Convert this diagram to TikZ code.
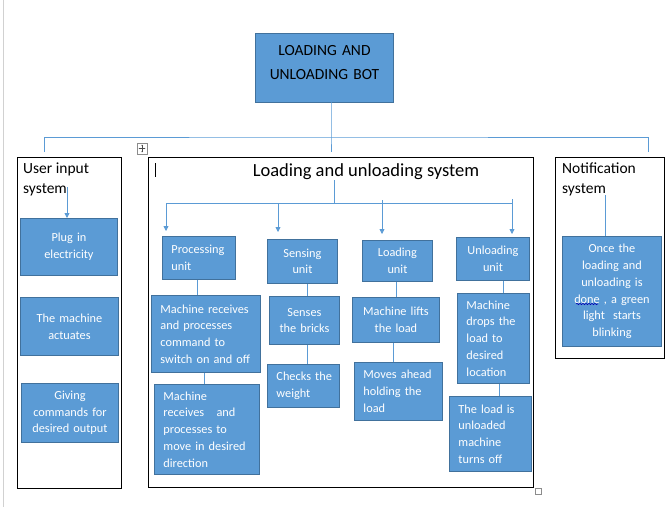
\documentclass[tikz,border=0pt]{standalone}
\usepackage{fontspec}
\setmainfont{Carlito}
\usetikzlibrary{arrows.meta,decorations.pathmorphing}
\definecolor{boxblue}{HTML}{5B9BD5}
\definecolor{boxedge}{HTML}{41719C}
\definecolor{linkblue}{HTML}{5B9BD5}

\begin{document}
\begin{tikzpicture}[x=1pt, y=-1pt,
    blk/.style={draw=boxedge, fill=boxblue, text=white, line width=0.9pt,
      anchor=north west, inner xsep=9pt, inner ysep=0pt,
      font=\fontsize{12.3}{16.7}\selectfont},
    frame/.style={draw=black, line width=1.1pt, anchor=north west, inner sep=0pt},
    title/.style={anchor=north west, inner sep=0pt, align=left,
      font=\fontsize{15.5}{20}\selectfont},
    link/.style={draw=linkblue, line width=0.8pt},
    arr/.style={link, -{Triangle[length=5pt,width=5pt]}},
    caret/.style={draw=black, line width=0.8pt}]
    \useasboundingbox (0,0) rectangle (672,507);
    \draw[black!18, line width=1pt] (3,0) -- (3,507);
    % top box
    \node[blk, text=black, text width=120pt, minimum height=69pt, align=center,
      text depth=35pt, font=\fontsize{15.5}{24}\selectfont] (bot) at (255,33)
      {LOADING AND\\UNLOADING BOT};
    % frames
    \node[frame, minimum width=104pt, minimum height=331pt] (user) at (17,157) {};
    \node[frame, minimum width=385pt, minimum height=330pt] (lus) at (148,157) {};
    \node[frame, minimum width=109pt, minimum height=201pt] (notif) at (555,157) {};
    \node[title] (usert) at (23,163) {User input\\system};
    \node[title, anchor=north, font=\fontsize{18.5}{22}\selectfont] (lust) at (366,163) {Loading and unloading system};
    \node[title] (notift) at (562,163) {Notification\\system};
    % top connectors
    \coordinate (hub) at (331,137);
    \draw[link] (331,102) -- (hub) -- (331,152);
    \draw[link] (44,152) -- (44,137) -- (hub) -- (648,137) -- (648,152);
    % user input system
    \node[blk, text width=79pt, minimum height=57pt, align=center] (plug) at (20,218) {Plug in\\electricity};
    \node[blk, text width=80pt, minimum height=58pt, align=center] (act) at (20,297) {The machine\\actuates};
    \node[blk, text width=79pt, minimum height=59pt, align=center] (give) at (21,383) {Giving\\commands for\\desired output};
    \draw[arr] (67,187) -- (plug.north -| 67,0);
    % loading and unloading system
    \draw[link] (334,180) -- (334,203);
    \draw[link] (166,203) -- (512,203) -- (512,199);
    \node[blk, text width=55pt, minimum height=43pt, align=left] (proc) at (162,236) {Processing\\unit};
    \node[blk, text width=52pt, minimum height=44pt, align=center] (sens) at (267,239) {Sensing\\unit};
    \node[blk, text width=52pt, minimum height=41pt, align=center] (load) at (362,240) {Loading\\unit};
    \node[blk, text width=55pt, minimum height=43pt, align=center] (unld) at (456,237) {Unloading\\unit};
    \draw[arr] (166,203) -- (166,231);
    \draw[arr] (278,203) -- (278,232);
    \draw[arr] (382,200) -- (382,234);
    \draw[arr] (512,203) -- (512,234);
    \node[blk, text width=91pt, minimum height=77pt, align=left] (rcv1) at (151,295)
      {Machine receives\\and processes\\command to\\switch on and off};
    \node[blk, text width=87pt, minimum height=90pt, align=left] (rcv2) at (154,384)
      {Machine\\receives \ \ and\\processes to\\move in desired\\direction};
    \node[blk, text width=52pt, minimum height=48pt, align=center] (bricks) at (269,296) {Senses\\the bricks};
    \node[blk, text width=60pt, inner xsep=6pt, minimum height=43pt, align=left] (weight) at (267,364) {\hspace{3pt}Checks~the\\\hspace{3pt}weight};
    \node[blk, text width=69pt, minimum height=45pt, align=center] (lifts) at (352,297) {Machine lifts\\the load};
    \node[blk, text width=70pt, minimum height=58pt, align=left] (moves) at (354,362) {Moves ahead\\holding the\\load};
    \node[blk, text width=54pt, minimum height=90pt, align=left] (drops) at (457,293) {Machine\\drops the\\load to\\desired\\location};
    \node[blk, text width=64pt, minimum height=75pt, align=left] (off) at (449,396) {The load is\\unloaded\\machine\\turns off};
    \draw[link] (proc.south -| 197,0) -- (rcv1.north -| 197,0);
    \draw[link] (rcv1.south -| 204,0) -- (rcv2.north -| 204,0);
    \draw[link] (sens.south -| 307,0) -- (bricks.north -| 307,0);
    \draw[link] (bricks.south -| 307,0) -- (weight.north -| 307,0);
    \draw[link] (load.south -| 396,0) -- (lifts.north -| 396,0);
    \draw[link] (lifts.south -| 393,0) -- (moves.north -| 393,0);
    \draw[link] (unld.south -| 503,0) -- (drops.north -| 503,0);
    \draw[link] (drops.south -| 499,0) -- (off.north -| 499,0);
    % notification system
    \node[blk, text width=81pt, minimum height=110pt, align=center] (blink) at (562,236)
      {Once the\\loading and\\unloading is\\done , a green\\light \ starts\\blinking};
    \draw[link] (605,195) -- (blink.north -| 605,0);
    \draw[blue!70!black, line width=0.6pt, decorate,
      decoration={snake, amplitude=0.7pt, segment length=3pt}] (576,304) -- (598,304);
    % editor marks
    \draw[caret] (155,163) -- (155,177);
    \draw[black!45, line width=0.6pt] (137,143) rectangle (147,154);
    \draw[black!70, line width=0.5pt, {Stealth[length=1.5pt]}-{Stealth[length=1.5pt]}] (138.5,148.5) -- (145.5,148.5);
    \draw[black!70, line width=0.5pt, {Stealth[length=1.5pt]}-{Stealth[length=1.5pt]}] (142,144.5) -- (142,152.5);
    \draw[black!45, line width=0.6pt] (535,488) rectangle (541,494);
\end{tikzpicture}
\end{document}
